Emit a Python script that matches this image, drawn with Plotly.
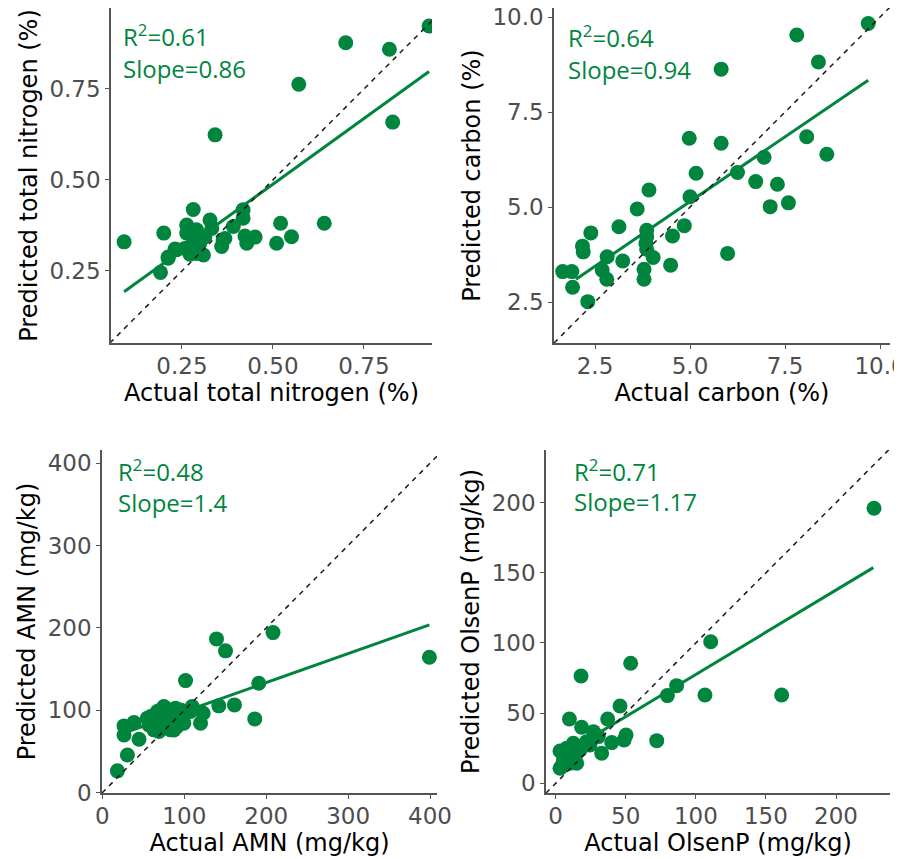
import plotly.graph_objects as go

GREEN = "#00853E"

# ---------------- Panel A: total nitrogen (%) ----------------
tn_actual = [0.929, 0.700, 0.820, 0.571, 0.829, 0.341, 0.091, 0.200, 0.281, 0.191,
             0.212, 0.231, 0.258, 0.272, 0.309, 0.263, 0.263, 0.290, 0.313, 0.327,
             0.332, 0.299, 0.363, 0.359, 0.391, 0.418, 0.418, 0.423, 0.451, 0.428,
             0.510, 0.521, 0.551, 0.641, 0.281, 0.368, 0.290, 0.234, 0.212]
tn_pred = [0.923, 0.877, 0.859, 0.763, 0.659, 0.624, 0.330, 0.354, 0.419, 0.246,
           0.285, 0.310, 0.312, 0.296, 0.294, 0.376, 0.354, 0.363, 0.344, 0.390,
           0.367, 0.326, 0.335, 0.317, 0.372, 0.418, 0.395, 0.346, 0.343, 0.326,
           0.326, 0.381, 0.344, 0.381, 0.331, 0.339, 0.298, 0.308, 0.288]
tn_fit_x = [0.091, 0.929]
tn_fit_y = [0.193, 0.798]

# ---------------- Panel B: carbon (%) ----------------
c_actual = [9.69, 7.81, 8.38, 5.82, 4.98, 5.82, 8.07, 8.60, 6.95, 5.16,
            6.25, 6.73, 7.30, 7.11, 7.59, 5.00, 3.92, 3.61, 3.13, 2.39,
            2.17, 2.19, 3.86, 3.86, 3.84, 3.86, 4.03, 4.54, 4.85, 4.49,
            2.82, 3.23, 2.69, 2.81, 3.79, 3.79, 1.65, 1.89, 1.91, 2.31, 5.99]
c_pred = [9.83, 9.53, 8.82, 8.63, 6.81, 6.68, 6.85, 6.39, 6.31, 5.89,
          5.91, 5.67, 5.60, 5.01, 5.11, 5.27, 5.45, 4.95, 4.48, 4.32,
          3.97, 3.82, 4.39, 4.22, 4.04, 3.89, 3.67, 4.24, 4.51, 3.47,
          3.69, 3.58, 3.34, 3.10, 3.36, 3.10, 3.30, 3.30, 2.89, 2.51, 3.78]
c_fit_x = [2.0, 9.69]
c_fit_y = [3.10, 8.34]

# ---------------- Panel C: AMN (mg/kg) ----------------
amn_actual = [399.2, 208.3, 139.3, 150.3, 101.5, 190.9, 142.1, 161.2, 186.0, 109.6,
              119.8, 123.0, 18.3, 30.5, 44.7, 26.4, 26.4, 38.6, 58.9, 56.8,
              67.0, 69.0, 73.1, 79.2, 83.2, 89.3, 89.3, 95.4, 99.4, 64.9,
              77.1, 91.4, 62.9, 75.1, 54.8, 71.1, 83.2, 107.6, 87.3, 65.0]
amn_pred = [164.4, 194.3, 186.6, 172.1, 136.0, 132.8, 105.3, 106.5, 89.5, 104.5,
            84.3, 96.4, 26.4, 45.7, 64.8, 81.0, 70.0, 85.0, 92.3, 82.2,
            98.4, 74.1, 86.2, 98.4, 76.2, 90.4, 102.5, 100.4, 84.3, 86.2,
            80.2, 80.2, 76.2, 104.5, 90.4, 100.4, 100.4, 98.4, 76.1, 92.3]
amn_fit_x = [18.3, 399.2]
amn_fit_y = [69.6, 203.6]

# ---------------- Panel D: OlsenP (mg/kg) ----------------
op_actual = [227.1, 110.6, 53.5, 18.1, 79.7, 86.3, 106.5, 161.2, 45.9, 37.1,
             9.8, 18.5, 72.1, 50.2, 48.8, 26.9, 30.4, 32.8, 40.0, 22.1,
             12.6, 7.8, 3.1, 15.0, 4.3, 7.8, 11.4, 17.4, 24.5, 5.5, 10.2, 3.1]
op_pred = [196.0, 100.9, 85.5, 76.5, 62.5, 69.6, 62.9, 62.9, 55.1, 45.8,
           45.8, 39.9, 30.4, 34.4, 30.9, 36.8, 33.3, 21.4, 29.0, 29.7,
           28.5, 24.9, 23.0, 14.3, 11.9, 19.0, 20.2, 23.8, 27.3, 16.6, 14.3, 10.7]
op_fit_x = [3.0, 226.6]
op_fit_y = [19.3, 153.7]

# ---------------- texts ----------------
x_titles = ["Actual total nitrogen (%)", "Actual carbon (%)",
            "Actual AMN (mg/kg)", "Actual OlsenP (mg/kg)"]
y_titles = ["Predicted total nitrogen (%)", "Predicted carbon (%)",
            "Predicted AMN (mg/kg)", "Predicted OlsenP (mg/kg)"]
r2_labels = ["R<sup>2</sup>=0.61", "R<sup>2</sup>=0.64", "R<sup>2</sup>=0.48", "R<sup>2</sup>=0.71"]
slope_labels = ["Slope=0.86", "Slope=0.94", "Slope=1.4", "Slope=1.17"]

tick_vals = [[0.25, 0.50, 0.75], [2.5, 5.0, 7.5, 10.0], [0, 100, 200, 300, 400], [0, 50, 100, 150, 200]]
tick_text = [["0.25", "0.50", "0.75"], ["2.5", "5.0", "7.5", "10.0"],
             ["0", "100", "200", "300", "400"], ["0", "50", "100", "150", "200"]]

# ---------------- layout geometry ----------------
x_ranges = [[0.055, 0.937], [1.421, 10.263], [-0.5, 408.5], [-6.9, 238.5]]
y_ranges = [[0.052, 0.9725], [1.421, 10.24], [-0.5, 416.0], [-6.9, 237.5]]
W, H = 902, 859
OFF = 8  # page body margin offset
px_boxes = [(111, 432, 8, 343), (554, 890, 8, 343), (102, 437, 450, 793), (546, 890, 450, 793)]
ann_pos = [(0.030, 0.917, 0.820), (0.036, 0.915, 0.815), (0.042, 0.940, 0.848), (0.0765, 0.940, 0.850)]

panels = [(tn_actual, tn_pred, tn_fit_x, tn_fit_y),
          (c_actual, c_pred, c_fit_x, c_fit_y),
          (amn_actual, amn_pred, amn_fit_x, amn_fit_y),
          (op_actual, op_pred, op_fit_x, op_fit_y)]

fig = go.Figure()
layout = dict(width=W, height=H, margin=dict(l=0, r=0, t=0, b=0),
              paper_bgcolor="white", plot_bgcolor="white", showlegend=False)
annotations = []

for i, (xa, ya, fx, fy) in enumerate(panels):
    n = "" if i == 0 else str(i + 1)
    xref, yref = "x" + n, "y" + n
    fig.add_trace(go.Scatter(x=xa, y=ya, mode="markers", xaxis=xref, yaxis=yref,
                             marker=dict(size=15, color=GREEN, line=dict(width=0))))
    fig.add_trace(go.Scatter(x=fx, y=fy, mode="lines", xaxis=xref, yaxis=yref,
                             line=dict(color=GREEN, width=3)))
    lo = min(x_ranges[i][0], y_ranges[i][0])
    hi = max(x_ranges[i][1], y_ranges[i][1])
    fig.add_trace(go.Scatter(x=[lo, hi], y=[lo, hi], mode="lines", xaxis=xref, yaxis=yref,
                             line=dict(color="#1a1a1a", width=1.5, dash="5px,5px")))
    l, r, t, b = [max(v - OFF, 0) for v in px_boxes[i]]
    common = dict(showgrid=False, zeroline=False, showline=True, linecolor="#555555",
                  linewidth=1.5, ticks="outside", ticklen=4, tickcolor="#555555", tickwidth=1.3,
                  tickfont=dict(family="DejaVu Sans", size=23, color="#4d4d4d"),
                  ticklabeloverflow="allow", automargin=False)
    layout["xaxis" + n] = dict(common, domain=[l / W, r / W], range=x_ranges[i], anchor=yref,
                               tickvals=tick_vals[i], ticktext=tick_text[i], ticklabelstandoff=-2,
                               title=dict(text=x_titles[i], standoff=6,
                                          font=dict(family="DejaVu Sans", size=24, color="black")))
    layout["yaxis" + n] = dict(common, domain=[1 - b / H, 1 - t / H], range=y_ranges[i], anchor=xref,
                               tickvals=tick_vals[i], ticktext=tick_text[i],
                               title=dict(text=y_titles[i], standoff=5,
                                          font=dict(family="DejaVu Sans", size=24, color="black")))
    ax, ry, sy = ann_pos[i]
    for txt, yy in ((r2_labels[i], ry), (slope_labels[i], sy)):
        annotations.append(dict(text=txt, xref=xref + " domain", yref=yref + " domain",
                                x=ax, y=yy, xanchor="left", yanchor="middle", showarrow=False,
                                font=dict(family="Open Sans", size=24, color=GREEN)))

layout["annotations"] = annotations
fig.update_layout(**layout)
fig.write_html("out.html")
